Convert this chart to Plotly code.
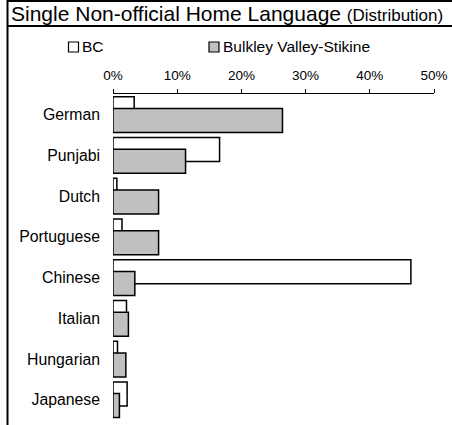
import plotly.graph_objects as go

categories = ["German", "Punjabi", "Dutch", "Portuguese", "Chinese", "Italian", "Hungarian", "Japanese"]
bc_values = [0.033, 0.166, 0.006, 0.014, 0.464, 0.021, 0.007, 0.022]
bvs_values = [0.264, 0.113, 0.071, 0.071, 0.034, 0.024, 0.020, 0.010]
series_names = ["BC", "Bulkley Valley-Stikine"]
series_colors = ["white", "#c0c0c0"]
x_ticks = [0, 0.1, 0.2, 0.3, 0.4, 0.5]
x_tick_labels = ["0%", "10%", "20%", "30%", "40%", "50%"]

W, H = 452, 425
L, R, T, B = 113, 18, 94, 0
pw, ph = W - L - R, H - T - B

def px_x(p):
    return (p - L) / pw

def px_y(p):
    return (H - B - p) / ph

FONT = "Liberation Sans, Arial, sans-serif"

fig = go.Figure()
fig.add_trace(go.Bar(
    y=categories, x=bc_values, orientation="h", name=series_names[0],
    marker=dict(color=series_colors[0], line=dict(color="black", width=1.5)),
    width=0.589, offset=-0.437, showlegend=False,
))
fig.add_trace(go.Bar(
    y=categories, x=bvs_values, orientation="h", name=series_names[1],
    marker=dict(color=series_colors[1], line=dict(color="black", width=1.5)),
    width=0.589, offset=-0.150, showlegend=False,
))

# legend (drawn as key boxes with text labels)
legend_boxes_px = [68.5, 209]
shapes = []
annotations = []
for name, color, bx in zip(series_names, series_colors, legend_boxes_px):
    shapes.append(dict(type="rect", xref="paper", yref="paper",
                       x0=px_x(bx), x1=px_x(bx + 10), y0=px_y(52), y1=px_y(42),
                       fillcolor=color, line=dict(color="black", width=1.2)))
    annotations.append(dict(text=name, xref="paper", yref="paper",
                            x=px_x(bx + 11.5), y=px_y(47), xanchor="left", yanchor="middle",
                            showarrow=False, font=dict(size=15.5, family=FONT, color="black")))

shapes += [
    dict(type="line", xref="paper", yref="paper", x0=px_x(7), x1=px_x(W + 5),
         y0=px_y(1), y1=px_y(1), line=dict(color="black", width=2)),
    dict(type="line", xref="paper", yref="paper", x0=px_x(7), x1=px_x(W + 5),
         y0=px_y(26), y1=px_y(26), line=dict(color="black", width=2)),
    dict(type="line", xref="paper", yref="paper", x0=px_x(7.5), x1=px_x(7.5),
         y0=px_y(0), y1=px_y(H + 5), line=dict(color="black", width=2)),
]

fig.update_layout(
    width=W, height=H,
    margin=dict(l=L, r=R, t=T, b=B, pad=0),
    paper_bgcolor="white", plot_bgcolor="white",
    barmode="overlay",
    font=dict(family=FONT, color="black"),
    showlegend=False,
    title=dict(
        text="Single Non-official Home Language <span style='font-size:17px'>(Distribution)</span>",
        xref="container", yref="container", x=11 / W, y=1 - 14 / H,
        xanchor="left", yanchor="middle",
        font=dict(size=21, family=FONT, color="black"),
    ),
    xaxis=dict(
        side="top", range=[0, 0.5], tickvals=x_ticks, ticktext=x_tick_labels,
        showgrid=False, zeroline=False, showline=True, linecolor="black", linewidth=1,
        ticks="outside", ticklen=4, tickcolor="black", tickfont=dict(size=13.5),
        ticklabelstandoff=4,
    ),
    yaxis=dict(
        type="category", categoryorder="array", categoryarray=categories,
        range=[7.62, -0.503], showgrid=False, zeroline=False, showline=False,
        ticks="", tickfont=dict(size=15.8), ticklabelstandoff=12,
    ),
    shapes=shapes,
    annotations=annotations,
)

fig.write_html("out.html", config={"displayModeBar": False},
               post_script="document.body.style.margin='0';document.body.style.overflow='hidden';")
